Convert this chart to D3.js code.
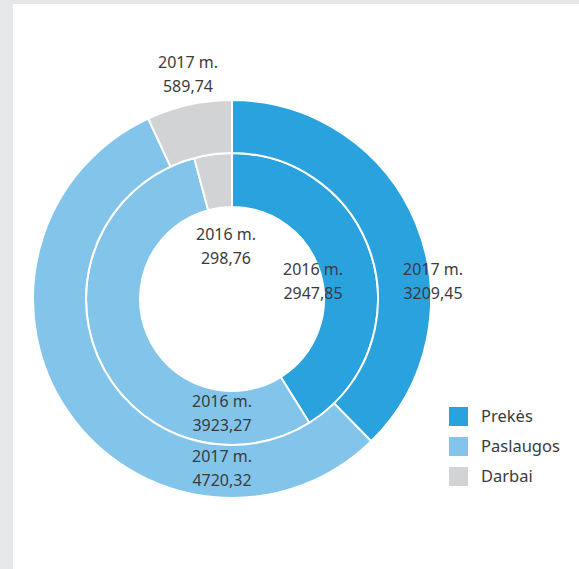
<!DOCTYPE html>
<html>
<head>
<meta charset="utf-8">
<script src="https://cdn.jsdelivr.net/npm/d3@7"></script>
<style>
  html, body { margin: 0; padding: 0; background: #e6e7e8; }
  svg { display: block; }
  text { font-family: "Noto Sans", "Open Sans", sans-serif; fill: #3b3b3b; }
</style>
</head>
<body>
<script>
// Categories and values (thousand EUR), two years as nested rings
const categories = ["Prekės", "Paslaugos", "Darbai"];
const values2016 = [2947.85, 3923.27, 298.76];
const values2017 = [3209.45, 4720.32, 589.74];
const yearLabels = ["2016 m.", "2017 m."];
const colors = ["#29a2dd", "#83c4eb", "#d1d3d4"];

// Label anchors (relative to the ring centre) for each ring / category
const labelAnchors2016 = [[81, -18], [-10, 114], [-6, -53]];
const labelAnchors2017 = [[201, -18], [-10, 169], [-44, -225]];

const W = 579, H = 569;
const svg = d3.select("body").append("svg").attr("width", W).attr("height", H);

// white panel over the grey frame
svg.append("rect").attr("x", 13).attr("y", 4).attr("width", W - 13).attr("height", H - 4).attr("fill", "#fff");

const cx = 232, cy = 299;
const g = svg.append("g").attr("transform", `translate(${cx},${cy})`);

const pie = d3.pie().sort(null).value(d => d);
const fmt = v => d3.format(".2f")(v).replace(".", ",");

const rings = [
  { vals: values2016, inner: 92, outer: 146, year: yearLabels[0], anchors: labelAnchors2016 },
  { vals: values2017, inner: 146, outer: 199, year: yearLabels[1], anchors: labelAnchors2017 }
];

rings.forEach(ring => {
  const arc = d3.arc().innerRadius(ring.inner).outerRadius(ring.outer);
  g.append("g").selectAll("path")
    .data(pie(ring.vals))
    .join("path")
    .attr("d", arc)
    .attr("fill", (d, i) => colors[i])
    .attr("stroke", "#fff")
    .attr("stroke-width", 2);
});

rings.forEach(ring => {
  const lg = g.append("g").selectAll("text")
    .data(ring.vals)
    .join("text")
    .attr("text-anchor", "middle")
    .attr("font-size", 16)
    .attr("transform", (d, i) => `translate(${ring.anchors[i][0]},${ring.anchors[i][1]})`);
  lg.append("tspan").attr("x", 0).attr("y", -6).text(ring.year);
  lg.append("tspan").attr("x", 0).attr("y", 18).text(d => fmt(d));
});

// legend
const legend = svg.append("g").attr("transform", "translate(449,407)");
const items = legend.selectAll("g").data(categories).join("g")
  .attr("transform", (d, i) => `translate(0,${i * 30})`);
items.append("rect").attr("width", 19).attr("height", 19).attr("fill", (d, i) => colors[i]);
items.append("text").attr("x", 32).attr("y", 15).attr("font-size", 16.5).text(d => d);
</script>
</body>
</html>
